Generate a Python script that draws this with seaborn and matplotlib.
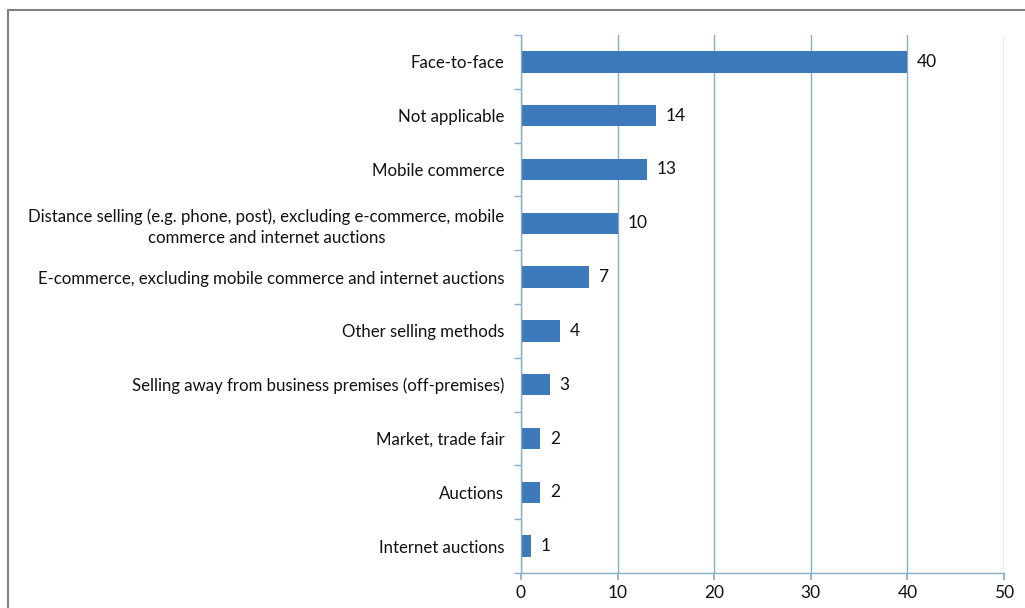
import matplotlib
matplotlib.use("Agg")
import matplotlib.pyplot as plt
from matplotlib.lines import Line2D
from matplotlib.ticker import FixedLocator
import seaborn as sns
import pandas as pd

methods = [
    "Face-to-face",
    "Not applicable",
    "Mobile commerce",
    "Distance selling (e.g. phone, post), excluding e-commerce, mobile\ncommerce and internet auctions",
    "E-commerce, excluding mobile commerce and internet auctions",
    "Other selling methods",
    "Selling away from business premises (off-premises)",
    "Market, trade fair",
    "Auctions",
    "Internet auctions",
]
counts = [40, 14, 13, 10, 7, 4, 3, 2, 2, 1]
x_ticks = [0, 10, 20, 30, 40, 50]

df = pd.DataFrame({"method": methods, "count": counts})

sns.set_theme(style="white")
plt.rcParams["font.family"] = ["Lato", "DejaVu Sans"]

line_col = "#86aec4"
text_col = "#111111"

fig = plt.figure(figsize=(10.25, 6.08), dpi=100)
ax = fig.add_axes([521 / 1025, 35 / 608, (1004 - 521) / 1025, (573 - 35) / 608])

sns.barplot(data=df, x="count", y="method", orient="h", color="#3d7abb",
            width=0.4, saturation=1, linewidth=0, ax=ax)

ax.set_xlim(0, 50)
ax.set_ylim(len(methods) - 0.5, -0.5)
ax.set_xticks(x_ticks)
ax.grid(axis="x", color=line_col, linewidth=1)
ax.set_axisbelow(True)
ax.set_xlabel("")
ax.set_ylabel("")

for s in ["top", "right"]:
    ax.spines[s].set_visible(False)
for s in ["left", "bottom"]:
    ax.spines[s].set_color(line_col)
    ax.spines[s].set_linewidth(1)

ax.yaxis.set_minor_locator(FixedLocator([i - 0.5 for i in range(len(methods) + 1)]))
ax.tick_params(axis="y", which="major", length=0, pad=12, labelsize=12.1, labelcolor=text_col)
ax.tick_params(axis="y", which="minor", length=5, color=line_col, left=True)
ax.tick_params(axis="x", which="major", length=5, color=line_col, bottom=True,
               pad=4, labelsize=12.5, labelcolor=text_col)
for lab in ax.get_yticklabels():
    lab.set_horizontalalignment("right")
    lab.set_multialignment("center")
    lab.set_linespacing(1.35)

for i, v in enumerate(counts):
    ax.text(v + 1.0, i, str(v), va="center", ha="left", fontsize=12.5, color=text_col)

# outer frame lines (top and left)
fig.add_artist(Line2D([8 / 1025, 1], [1 - 10 / 608, 1 - 10 / 608], transform=fig.transFigure,
                      color="#808080", linewidth=1.5))
fig.add_artist(Line2D([8 / 1025, 8 / 1025], [0, 1 - 10 / 608], transform=fig.transFigure,
                      color="#808080", linewidth=1.5))

fig.savefig("out.png", dpi=100)
